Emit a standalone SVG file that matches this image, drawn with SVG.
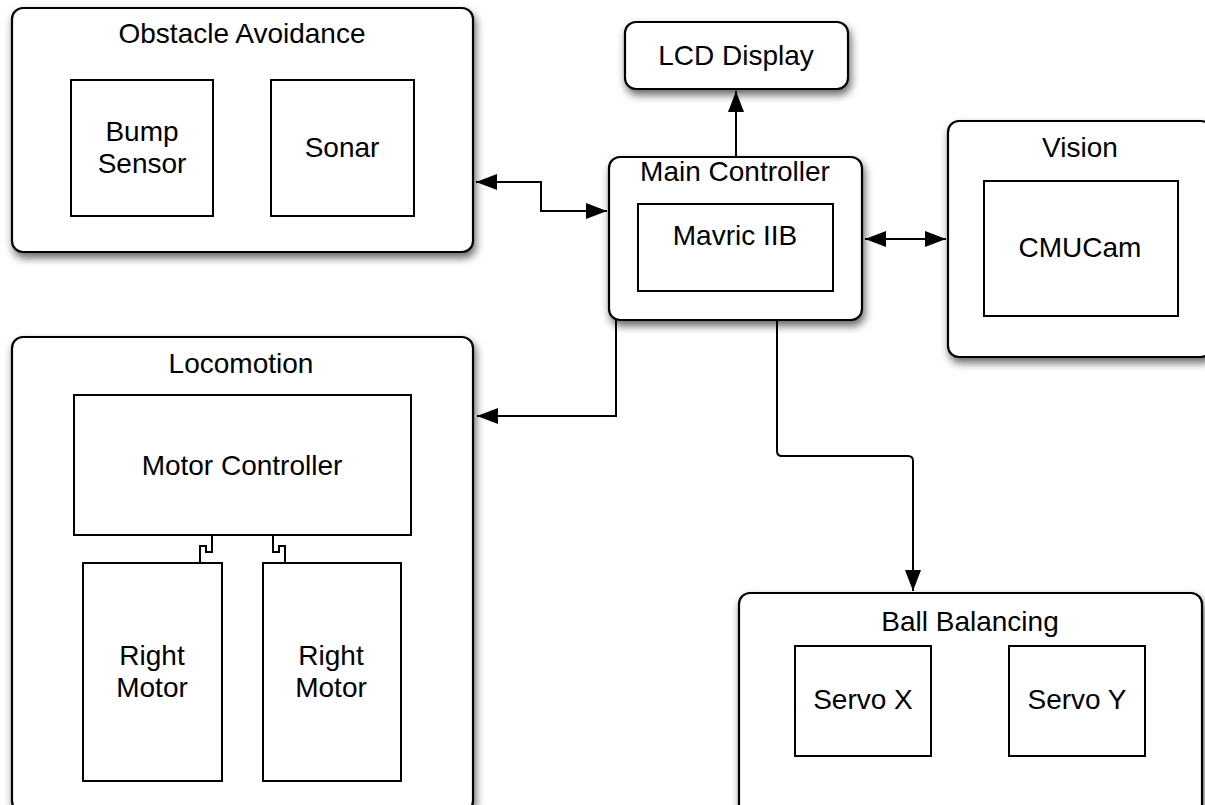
<svg xmlns="http://www.w3.org/2000/svg" width="1205" height="805" viewBox="0 0 1205 805">
  <style>
    .outer { fill: #ffffff; stroke: #000000; stroke-width: 2.2; filter: url(#shadow); }
    .inner { fill: #ffffff; stroke: #000000; stroke-width: 2; }
    .lbl { font-family: "Liberation Sans", Arial, Helvetica, sans-serif; font-size: 28px; fill: #000000; text-anchor: middle; }
    .conn { fill: none; stroke: #000000; stroke-width: 2; }
  </style>
  <defs>
    <filter id="shadow" x="-10%" y="-10%" width="125%" height="130%">
      <feDropShadow dx="2" dy="5" stdDeviation="4" flood-color="#000000" flood-opacity="0.6"/>
    </filter>
    <marker id="arrow" markerUnits="userSpaceOnUse" markerWidth="22" markerHeight="18" refX="21" refY="8.5" orient="auto-start-reverse" viewBox="0 0 22 18">
      <path d="M0,0.5 L21,8.5 L0,16.5 z" fill="#000000"/>
    </marker>
  </defs>
  <rect width="1205" height="805" fill="#ffffff"/>

  <g id="obstacle-avoidance">
    <rect class="outer" x="12" y="8" width="461" height="244" rx="11"/>
    <text class="lbl" x="242" y="43">Obstacle Avoidance</text>
    <g id="bump-sensor">
      <rect class="inner" x="71" y="80" width="142" height="136"/>
      <text class="lbl" x="142" y="141">Bump</text>
      <text class="lbl" x="142" y="173">Sensor</text>
    </g>
    <g id="sonar">
      <rect class="inner" x="271" y="80" width="143" height="136"/>
      <text class="lbl" x="342" y="157">Sonar</text>
    </g>
  </g>

  <g id="lcd-display">
    <rect class="outer" x="625" y="22" width="223" height="67" rx="11"/>
    <text class="lbl" x="736" y="65">LCD Display</text>
  </g>

  <g id="main-controller">
    <rect class="outer" x="609" y="157" width="253" height="163" rx="11"/>
    <text class="lbl" x="735" y="181">Main Controller</text>
    <g id="mavric-iib">
      <rect class="inner" x="638" y="204" width="195" height="87"/>
      <text class="lbl" x="735" y="245">Mavric IIB</text>
    </g>
  </g>

  <g id="vision">
    <rect class="outer" x="948" y="121" width="264" height="236" rx="11"/>
    <text class="lbl" x="1080" y="157">Vision</text>
    <g id="cmucam">
      <rect class="inner" x="984" y="181" width="194" height="135"/>
      <text class="lbl" x="1080" y="257">CMUCam</text>
    </g>
  </g>

  <g id="locomotion">
    <rect class="outer" x="12" y="337" width="461" height="475" rx="11"/>
    <text class="lbl" x="241" y="373">Locomotion</text>
    <g id="motor-controller">
      <rect class="inner" x="74" y="395" width="337" height="140"/>
      <text class="lbl" x="242" y="475">Motor Controller</text>
    </g>
    <g id="right-motor-1">
      <rect class="inner" x="83" y="563" width="139" height="218"/>
      <text class="lbl" x="152" y="665">Right</text>
      <text class="lbl" x="152" y="697">Motor</text>
    </g>
    <g id="right-motor-2">
      <rect class="inner" x="263" y="563" width="138" height="218"/>
      <text class="lbl" x="331" y="665">Right</text>
      <text class="lbl" x="331" y="697">Motor</text>
    </g>
  </g>

  <g id="ball-balancing">
    <rect class="outer" x="739" y="593" width="463" height="225" rx="11"/>
    <text class="lbl" x="970" y="631">Ball Balancing</text>
    <g id="servo-x">
      <rect class="inner" x="795" y="646" width="136" height="110"/>
      <text class="lbl" x="863" y="709">Servo X</text>
    </g>
    <g id="servo-y">
      <rect class="inner" x="1009" y="646" width="136" height="110"/>
      <text class="lbl" x="1077" y="709">Servo Y</text>
    </g>
  </g>

  <g id="connectors">
    <path class="conn" d="M476,182 H541 V211 H607" marker-start="url(#arrow)" marker-end="url(#arrow)"/>
    <path class="conn" d="M736,157 V91" marker-end="url(#arrow)"/>
    <path class="conn" d="M865,239 H946" marker-start="url(#arrow)" marker-end="url(#arrow)"/>
    <path class="conn" d="M616,320 V416 H477" marker-end="url(#arrow)"/>
    <path class="conn" d="M777,320 V451 Q777,456 782,456 H908 Q913,456 913,461 V591" marker-end="url(#arrow)"/>
    <path class="conn" d="M212,535 V552 H206 V546 H200 V563"/>
    <path class="conn" d="M273,535 V552 H279 V546 H285 V563"/>
  </g>
</svg>
